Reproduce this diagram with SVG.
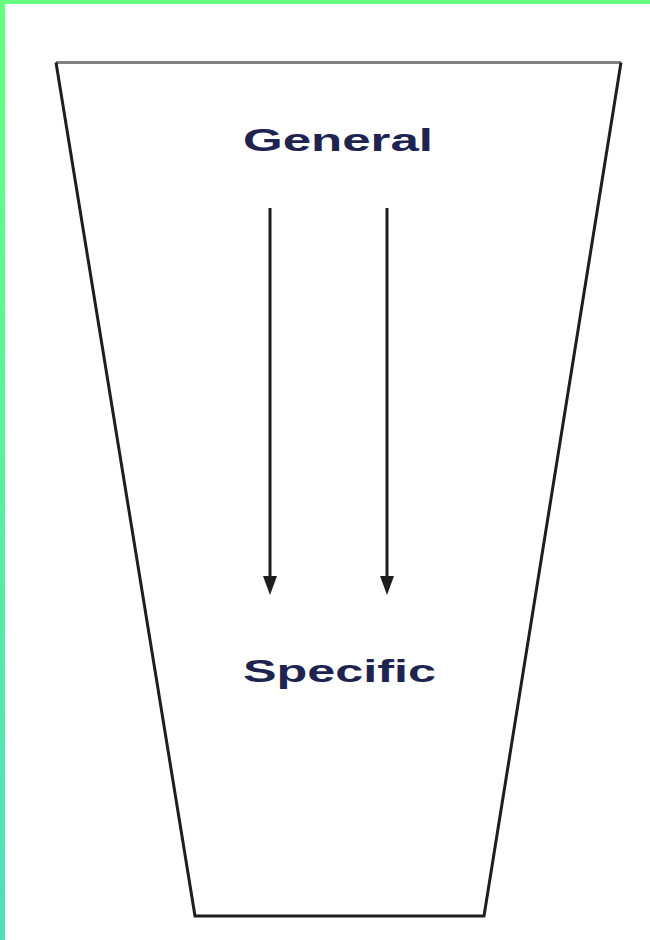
<svg xmlns="http://www.w3.org/2000/svg" width="650" height="940" viewBox="0 0 650 940">
  <defs>
    <linearGradient id="bord" x1="0" y1="0" x2="0" y2="1">
      <stop offset="0" stop-color="#66ff80"/>
      <stop offset="1" stop-color="#55dcbc"/>
    </linearGradient>
    <style>
      .lbl { font-family: "Liberation Sans", Arial, sans-serif; font-weight: bold; font-size: 31px; fill: #1e2350; }
      .arr { stroke: #1e1e1e; stroke-width: 3; fill: none; }
      .head { fill: #1e1e1e; }
    </style>
  </defs>
  <rect x="0" y="0" width="650" height="940" fill="#ffffff"/>
  <rect x="0" y="0" width="5" height="940" fill="url(#bord)"/>
  <rect x="0" y="0" width="650" height="4" fill="#66ff80"/>

  <g id="funnel">
    <line x1="56" y1="62.5" x2="621" y2="62.5" stroke="#808080" stroke-width="3"/>
    <polyline points="56,62.5 195,916 484,916 621,62.5" fill="none" stroke="#1e1e1e" stroke-width="3" stroke-linejoin="miter"/>
  </g>

  <g id="general">
    <text class="lbl" x="243" y="151" textLength="190" lengthAdjust="spacingAndGlyphs">General</text>
  </g>
  <g id="specific">
    <text class="lbl" x="243" y="682" textLength="193" lengthAdjust="spacingAndGlyphs">Specific</text>
  </g>

  <g id="connectors">
    <line class="arr" x1="270" y1="208" x2="270" y2="577"/>
    <path class="head" d="M263,576 L277,576 L270,595 Z"/>
    <line class="arr" x1="387" y1="208" x2="387" y2="577"/>
    <path class="head" d="M380,576 L394,576 L387,595 Z"/>
  </g>
</svg>
